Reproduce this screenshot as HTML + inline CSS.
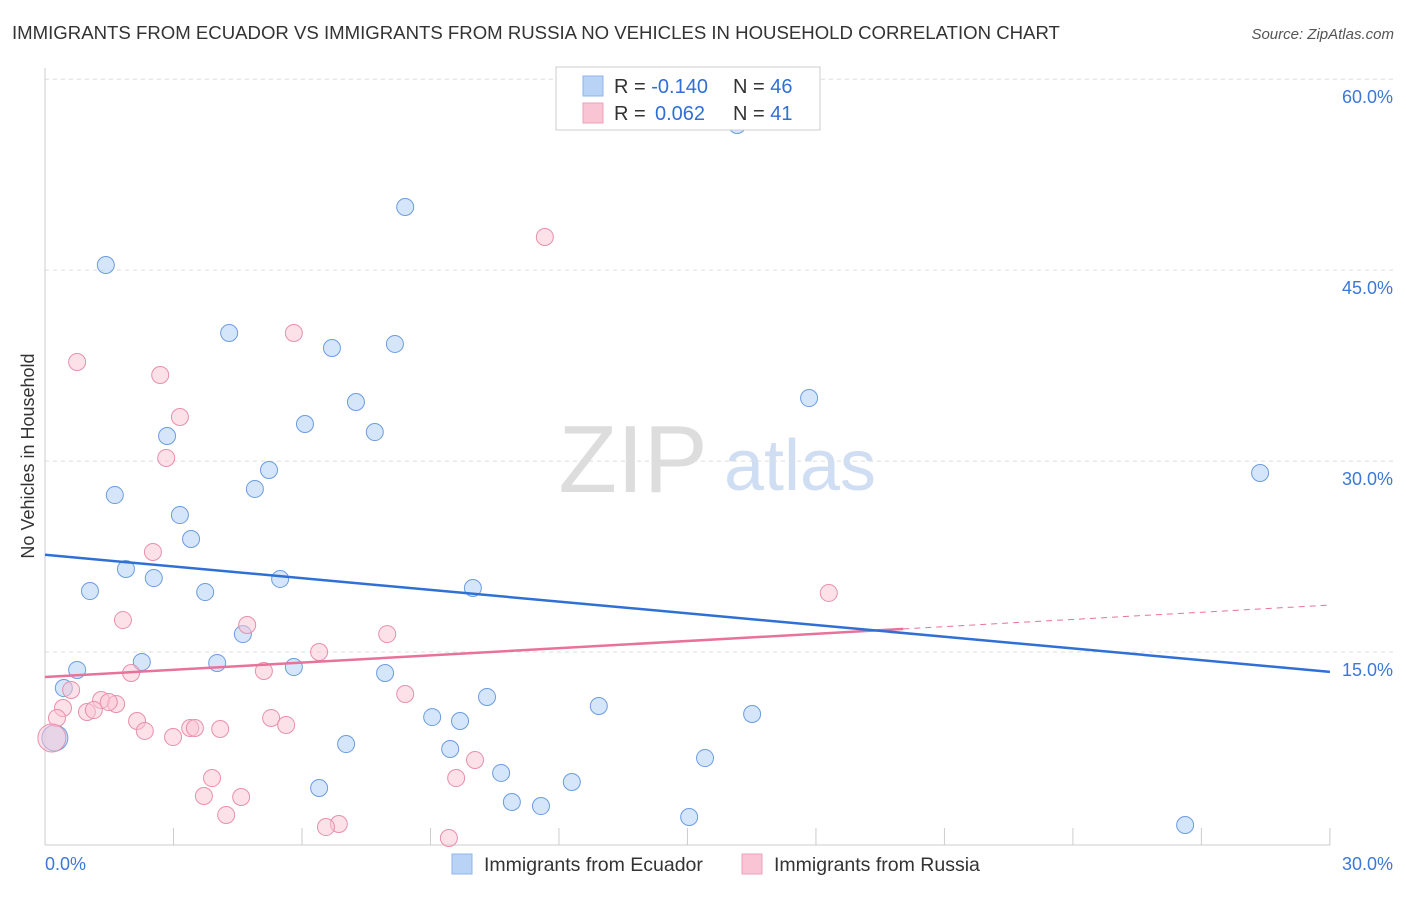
<!DOCTYPE html>
<html><head><meta charset="utf-8"><style>
body{margin:0;background:#fff;font-family:"Liberation Sans",sans-serif;}
svg text{font-family:"Liberation Sans",sans-serif;}
</style></head><body>
<svg id="c" width="1406" height="892">
<text x="12" y="39" font-size="18.6" fill="#333">IMMIGRANTS FROM ECUADOR VS IMMIGRANTS FROM RUSSIA NO VEHICLES IN HOUSEHOLD CORRELATION CHART</text>
<text x="1394" y="39" font-size="15" fill="#555" font-style="italic" text-anchor="end">Source: ZipAtlas.com</text>
<text x="633" y="492" font-size="96" fill="#ddd" font-family="Liberation Serif" text-anchor="middle">ZIP</text>
<text x="800" y="490" font-size="72" fill="#d0def3" text-anchor="middle">atlas</text>
<text transform="translate(34,456) rotate(-90)" font-size="18" fill="#333" text-anchor="middle">No Vehicles in Household</text>
<g id="grid"></g><g id="marks"></g>
<g>
<rect x="556" y="67" width="264" height="63" fill="#fff" stroke="#ccc"/>
<rect x="583" y="76" width="20" height="20" fill="#b9d3f7" stroke="#8fb3e8"/>
<rect x="583" y="103" width="20" height="20" fill="#f9c4d4" stroke="#eea0b8"/>
<text x="614" y="93" font-size="20" fill="#333">R = <tspan fill="#2f6fd6">-0.140</tspan><tspan x="733">N = </tspan><tspan fill="#2f6fd6">46</tspan></text>
<text x="614" y="120" font-size="20" fill="#333">R = <tspan fill="#2f6fd6" x="655">0.062</tspan><tspan x="733">N = </tspan><tspan fill="#2f6fd6">41</tspan></text>
</g>
<g>
<rect x="452" y="854" width="20" height="20" fill="#b9d3f7" stroke="#8fb3e8"/>
<text x="484" y="871" font-size="19.5" fill="#333">Immigrants from Ecuador</text>
<rect x="742" y="854" width="20" height="20" fill="#f9c4d4" stroke="#eea0b8"/>
<text x="774" y="871" font-size="19.5" fill="#333">Immigrants from Russia</text>
</g>
</svg>
<script>
const ecuadorX=[16.16,8.41,1.42,4.30,6.70,8.17,7.26,17.84,6.07,7.70,2.85,5.23,28.37,1.63,4.90,3.15,3.41,1.89,2.54,1.05,3.74,5.49,9.99,4.62,2.26,4.02,0.75,5.81,7.94,0.44,10.32,12.93,16.51,9.04,9.69,7.03,9.46,0.23,15.41,10.65,12.30,6.40,10.90,11.58,15.04,26.62];
const ecuadorY=[56.56,50.12,45.56,40.22,39.04,39.36,34.80,35.11,33.07,32.44,32.13,29.46,29.22,27.49,27.97,25.92,24.04,21.68,20.97,19.95,19.87,20.90,20.19,16.57,14.38,14.30,13.75,13.98,13.51,12.33,11.63,10.92,10.29,10.05,9.74,7.93,7.54,8.41,6.83,5.66,4.95,4.48,3.38,3.06,2.20,1.57];
const russiaX=[11.67,0.75,2.69,5.81,3.15,2.83,2.52,18.30,1.82,4.72,7.99,6.40,2.01,5.11,0.61,8.41,1.31,1.66,1.49,0.98,1.14,0.42,5.28,2.15,5.63,0.28,2.33,3.39,4.09,3.50,2.99,10.04,3.90,9.60,3.71,4.58,4.23,6.86,6.56,9.43,0.16];
const russiaY=[47.76,37.94,36.92,40.22,33.62,30.40,23.02,19.80,17.67,17.28,16.57,15.16,13.51,13.67,12.18,11.86,11.39,11.08,11.23,10.45,10.60,10.76,9.98,9.74,9.43,9.98,8.96,9.19,9.11,9.19,8.48,6.68,5.26,5.26,3.85,3.77,2.36,1.65,1.41,0.55,8.41];
const yTicks=[15,30,45,60];
const yTickLabels=["15.0%","30.0%","45.0%","60.0%"];
const ecuadorTrend=[22.8,13.6];
const russiaTrend=[13.2,18.85];
const russiaSolidEnd=20.04;
const X=v=>45+v*42.83, Y=v=>845-v*12.73;
const ns="http://www.w3.org/2000/svg";
function mk(p,t,a){const e=document.createElementNS(ns,t);for(const k in a)e.setAttribute(k,a[k]);p.appendChild(e);return e;}
const g=document.getElementById('grid'), m=document.getElementById('marks');
yTicks.forEach((v,i)=>{
 const l=mk(g,'line',{x1:45,x2:1394,y1:Y(v)-2,y2:Y(v)-2,stroke:'#ddd','stroke-dasharray':'4 4'});
 
 
 const t=mk(g,'text',{x:1393,y:Y(v)+22,'font-size':18,fill:'#3b78d8','text-anchor':'end'});t.textContent=yTickLabels[i];
 
 
});
mk(g,'line',{x1:45,x2:45,y1:68,y2:845,stroke:'#ccc'});
mk(g,'line',{x1:45,x2:1330,y1:845,y2:845,stroke:'#ccc'});
for(let i=0;i<=10;i++){const t=mk(g,'line',{x1:X(i*3),x2:X(i*3),y1:828,y2:845,stroke:'#ccc'});
 
 }
let t0=mk(g,'text',{x:45,y:870,'font-size':18,fill:'#3b78d8'});t0.textContent='0.0%';


let t1=mk(g,'text',{x:1393,y:870,'font-size':18,fill:'#3b78d8','text-anchor':'end'});t1.textContent='30.0%';


ecuadorX.forEach((x,i)=>{const c=mk(m,'circle',{cx:X(x),cy:Y(ecuadorY[i]),r:i==37?13:8.5,fill:'#b9d3f7','fill-opacity':0.6,stroke:'#6b9de0','stroke-width':1});
 
 });
russiaX.forEach((x,i)=>{const c=mk(m,'circle',{cx:X(x),cy:Y(russiaY[i]),r:i==40?14:8.5,fill:'#f9c4d4','fill-opacity':0.5,stroke:'#e890ac','stroke-width':1});
 
 });
const ry=x=>russiaTrend[0]+(russiaTrend[1]-russiaTrend[0])*x/30;
let l1=mk(m,'line',{x1:X(0),y1:Y(ry(0)),x2:X(russiaSolidEnd),y2:Y(ry(russiaSolidEnd)),stroke:'#e8729a','stroke-width':2.5});


let l2=mk(m,'line',{x1:X(russiaSolidEnd),y1:Y(ry(russiaSolidEnd)),x2:X(30),y2:Y(ry(30)),stroke:'#e8729a','stroke-width':1,'stroke-dasharray':'6 5'});


let l3=mk(m,'line',{x1:X(0),y1:Y(ecuadorTrend[0]),x2:X(30),y2:Y(ecuadorTrend[1]),stroke:'#2f6fd6','stroke-width':2.5});


</script>
</body></html>
